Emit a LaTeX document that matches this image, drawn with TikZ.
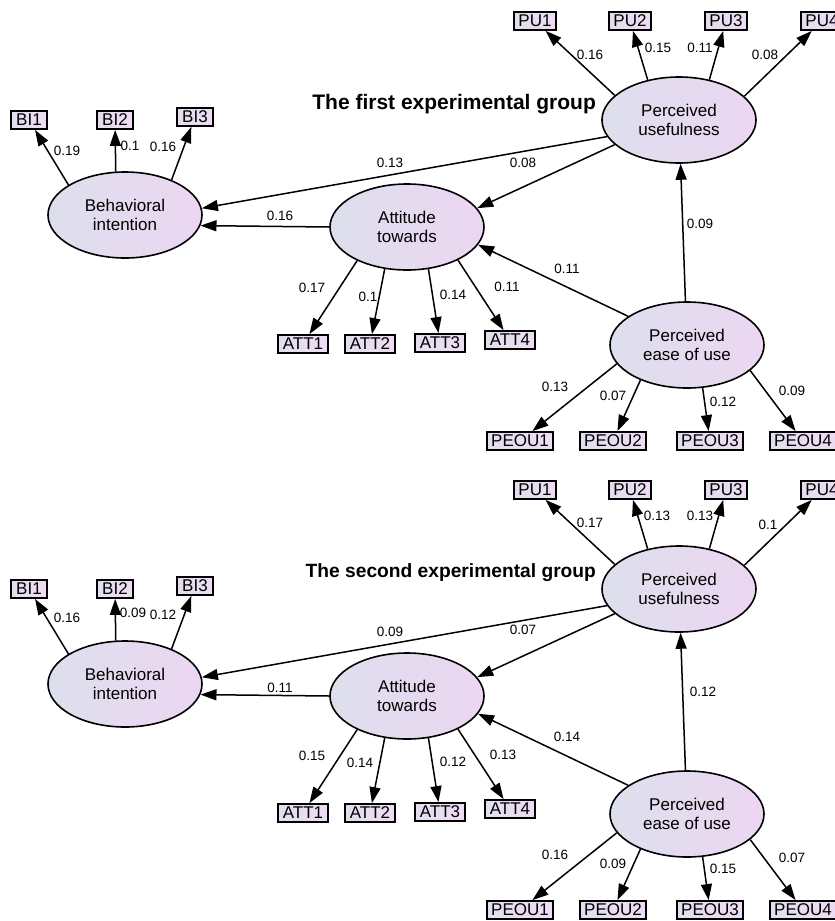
\documentclass[tikz,border=0pt]{standalone}
\usepackage{fontspec}
\setmainfont{Liberation Sans}
\usetikzlibrary{arrows.meta,shapes.geometric}

\definecolor{latentleft}{RGB}{221,223,237}
\definecolor{latentright}{RGB}{236,214,241}
\definecolor{boxleft}{RGB}{226,222,238}
\definecolor{boxright}{RGB}{238,220,243}

\tikzset{every picture/.style={line width=1.5pt}}
\tikzset{
  latent/.style={ellipse, draw, line width=1.6pt, left color=latentleft, right color=latentright,
    minimum width=154pt, minimum height=86pt, inner sep=0pt, align=center,
    font=\fontsize{17}{18.5}\selectfont},
  indicator/.style={rectangle, draw, line width=1.8pt, left color=boxleft, right color=boxright,
    minimum width=36pt, minimum height=18pt, inner xsep=4.5pt, inner ysep=3pt,
    font=\fontsize{17}{17}\selectfont},
  regarrow/.style={-{Triangle[length=16pt,width=11pt]}, line width=1.5pt},
  coef/.style={font=\fontsize{13.5}{14}\selectfont},
  grouptitle/.style={anchor=east, font=\bfseries}
}

% one measurement/structural model, drawn in the current scope
% #1 = title, #2 = title font size
\newcommand{\semmodel}[2]{%
  % latent variables
  \node[latent] (intent) at (125,215) {Behavioral\\intention};
  \node[latent] (attitude) at (407,227) {Attitude\\towards};
  \node[latent] (useful) at (679,120) {Perceived\\usefulness};
  \node[latent] (ease) at (687,345) {Perceived\\ease of use};
  % observed variables
  \node[indicator] (bi1) at (29,120) {BI1};
  \node[indicator] (bi2) at (115,120) {BI2};
  \node[indicator] (bi3) at (195,117) {BI3};
  \node[indicator] (pu1) at (535,21) {PU1};
  \node[indicator] (pu2) at (630,21) {PU2};
  \node[indicator] (pu3) at (726,21) {PU3};
  \node[indicator] (pu4) at (822,21) {PU4};
  \node[indicator] (att1) at (303,344) {ATT1};
  \node[indicator] (att2) at (370,344) {ATT2};
  \node[indicator] (att3) at (440,343) {ATT3};
  \node[indicator] (att4) at (510,340) {ATT4};
  \node[indicator] (peou1) at (520,441) {PEOU1};
  \node[indicator] (peou2) at (613,441) {PEOU2};
  \node[indicator] (peou3) at (710,441) {PEOU3};
  \node[indicator] (peou4) at (803,441) {PEOU4};
  % loadings
  \draw[regarrow] (intent.152) -- (bi1);
  \draw[regarrow] (intent.102) -- (bi2);
  \draw[regarrow] (intent.37) -- (bi3);
  \draw[regarrow] (useful.159) -- (pu1);
  \draw[regarrow] (useful.128) -- (pu2);
  \draw[regarrow] (useful.53) -- (pu3);
  \draw[regarrow] (useful.20) -- (pu4);
  \draw[regarrow] (attitude.214) -- (att1);
  \draw[regarrow] (attitude.242) -- (att2);
  \draw[regarrow] (attitude.297) -- (att3);
  \draw[regarrow] (attitude.327) -- (att4);
  \draw[regarrow] (ease.195) -- (peou1);
  \draw[regarrow] (ease.217) -- (peou2);
  \draw[regarrow] (ease.290) -- (peou3);
  \draw[regarrow] (ease.338) -- (peou4);
  % structural paths
  \draw[regarrow] (useful.193) -- (intent.5);
  \draw[regarrow] (useful.201) -- (attitude.15);
  \draw[regarrow] (attitude.180) -- (intent.-8);
  \draw[regarrow] (ease) -- (useful);
  \draw[regarrow] (ease.154) -- (attitude.346);
  % Text Node
  \node[grouptitle] (title) at (600,104) {\fontsize{#2}{#2}\selectfont #1};
}

\begin{document}
\begin{tikzpicture}[x=1pt,y=1pt,yscale=-1,xscale=1]
\useasboundingbox (0,0) rectangle (835,921);

%first group
\begin{scope}
\semmodel{The first experimental group}{21}
\foreach \cx/\cy/\val in {67/151/0.19, 130/146/0.1, 163/147/0.16,
  390/163/0.13, 523/163/0.08, 280/216/0.16,
  590/55/0.16, 658/48/0.15, 700/48/0.11, 765/55/0.08,
  700/224/0.09, 567/269/0.11,
  312/288/0.17, 368/297/0.1, 453/295/0.14, 507/287/0.11,
  555/387/0.13, 613/396/0.07, 723/402/0.12, 792/391/0.09}
  \node[coef] at (\cx,\cy) {\val};
\end{scope}

%second group
\begin{scope}[shift={(0,469)}]
\semmodel{The second experimental group}{19.2}
\foreach \cx/\cy/\val in {67/149/0.16, 133/144/0.09, 163/146/0.12,
  390/163/0.09, 523/161/0.07, 280/219/0.11,
  590/54/0.17, 657/47/0.13, 700/47/0.13, 768/56/0.1,
  703/223/0.12, 567/268/0.14,
  312/287/0.15, 360/294/0.14, 453/293/0.12, 503/286/0.13,
  555/386/0.16, 613/395/0.09, 723/400/0.15, 792/389/0.07}
  \node[coef] at (\cx,\cy) {\val};
\end{scope}

\end{tikzpicture}
\end{document}
